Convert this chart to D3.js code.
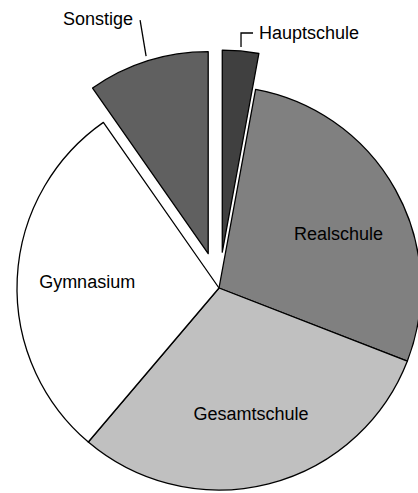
<!DOCTYPE html>
<html>
<head>
<meta charset="utf-8">
<script src="https://cdn.jsdelivr.net/npm/d3@7"></script>
<style>
  body { margin: 0; background: #fff; }
  text { font-family: "Liberation Sans", Arial, sans-serif; font-size: 18px; fill: #000; }
</style>
</head>
<body>
<svg width="418" height="493"></svg>
<script>
// Daten
const categories = ["Hauptschule", "Realschule", "Gesamtschule", "Gymnasium", "Sonstige"];
const values = [2.9, 28.0, 30.3, 29.1, 9.7];
const explodedCats = ["Hauptschule", "Sonstige"];

const svg = d3.select("svg");
const cx = 219, cy = 288;
const radius = 202;
const explode = 36;

const color = d3.scaleOrdinal()
  .domain(categories)
  .range(["#404040", "#808080", "#c0c0c0", "#ffffff", "#606060"]);

const pie = d3.pie().sort(null).value(d => d.value);
const arcs = pie(categories.map((c, i) => ({ cat: c, value: values[i] })));

const arc = d3.arc().innerRadius(0).outerRadius(radius);

// Verschiebung für herausgezogene Segmente
function offset(d) {
  if (!explodedCats.includes(d.data.cat)) return [0, 0];
  const a = (d.startAngle + d.endAngle) / 2;
  return [Math.sin(a) * explode, -Math.cos(a) * explode];
}
function polar(d, r) {
  const a = (d.startAngle + d.endAngle) / 2;
  const o = offset(d);
  return [cx + o[0] + Math.sin(a) * r, cy + o[1] - Math.cos(a) * r];
}

const g = svg.append("g").attr("transform", `translate(${cx},${cy})`);

g.selectAll("path")
  .data(arcs)
  .enter()
  .append("path")
  .attr("transform", d => `translate(${offset(d)})`)
  .attr("d", arc)
  .attr("fill", d => color(d.data.cat))
  .attr("stroke", "#000")
  .attr("stroke-width", 1.3)
  .attr("stroke-linejoin", "round");

// Beschriftungen innerhalb
const nudge = { Realschule: [6, 9], Gesamtschule: [0, 0], Gymnasium: [-2, 0] };
arcs.filter(d => !explodedCats.includes(d.data.cat)).forEach(d => {
  const p = polar(d, 130);
  const n = nudge[d.data.cat] || [0, 0];
  svg.append("text")
    .attr("x", p[0] + n[0])
    .attr("y", p[1] + n[1] + 6)
    .attr("text-anchor", "middle")
    .text(d.data.cat);
});

// Hauptschule: Führungslinie mit Knick
const dH = arcs[0];
const h0 = polar(dH, 206);
const hy = 33;
svg.append("path")
  .attr("d", `M${h0[0]},${h0[1]} L${h0[0]},${hy} L${h0[0] + 12},${hy}`)
  .attr("fill", "none")
  .attr("stroke", "#000")
  .attr("stroke-width", 1.3);
svg.append("text")
  .attr("x", h0[0] + 18)
  .attr("y", hy + 6)
  .text(dH.data.cat);

// Sonstige: gerade Führungslinie, etwas steiler als der Radius
const dS = arcs[4];
const s0 = polar(dS, 207);
const s1 = [s0[0] - 6, s0[1] - 36];
svg.append("line")
  .attr("x1", s0[0]).attr("y1", s0[1])
  .attr("x2", s1[0]).attr("y2", s1[1])
  .attr("stroke", "#000")
  .attr("stroke-width", 1.3);
svg.append("text")
  .attr("x", s1[0] - 7)
  .attr("y", s1[1] + 5)
  .attr("text-anchor", "end")
  .text(dS.data.cat);
</script>
</body>
</html>
